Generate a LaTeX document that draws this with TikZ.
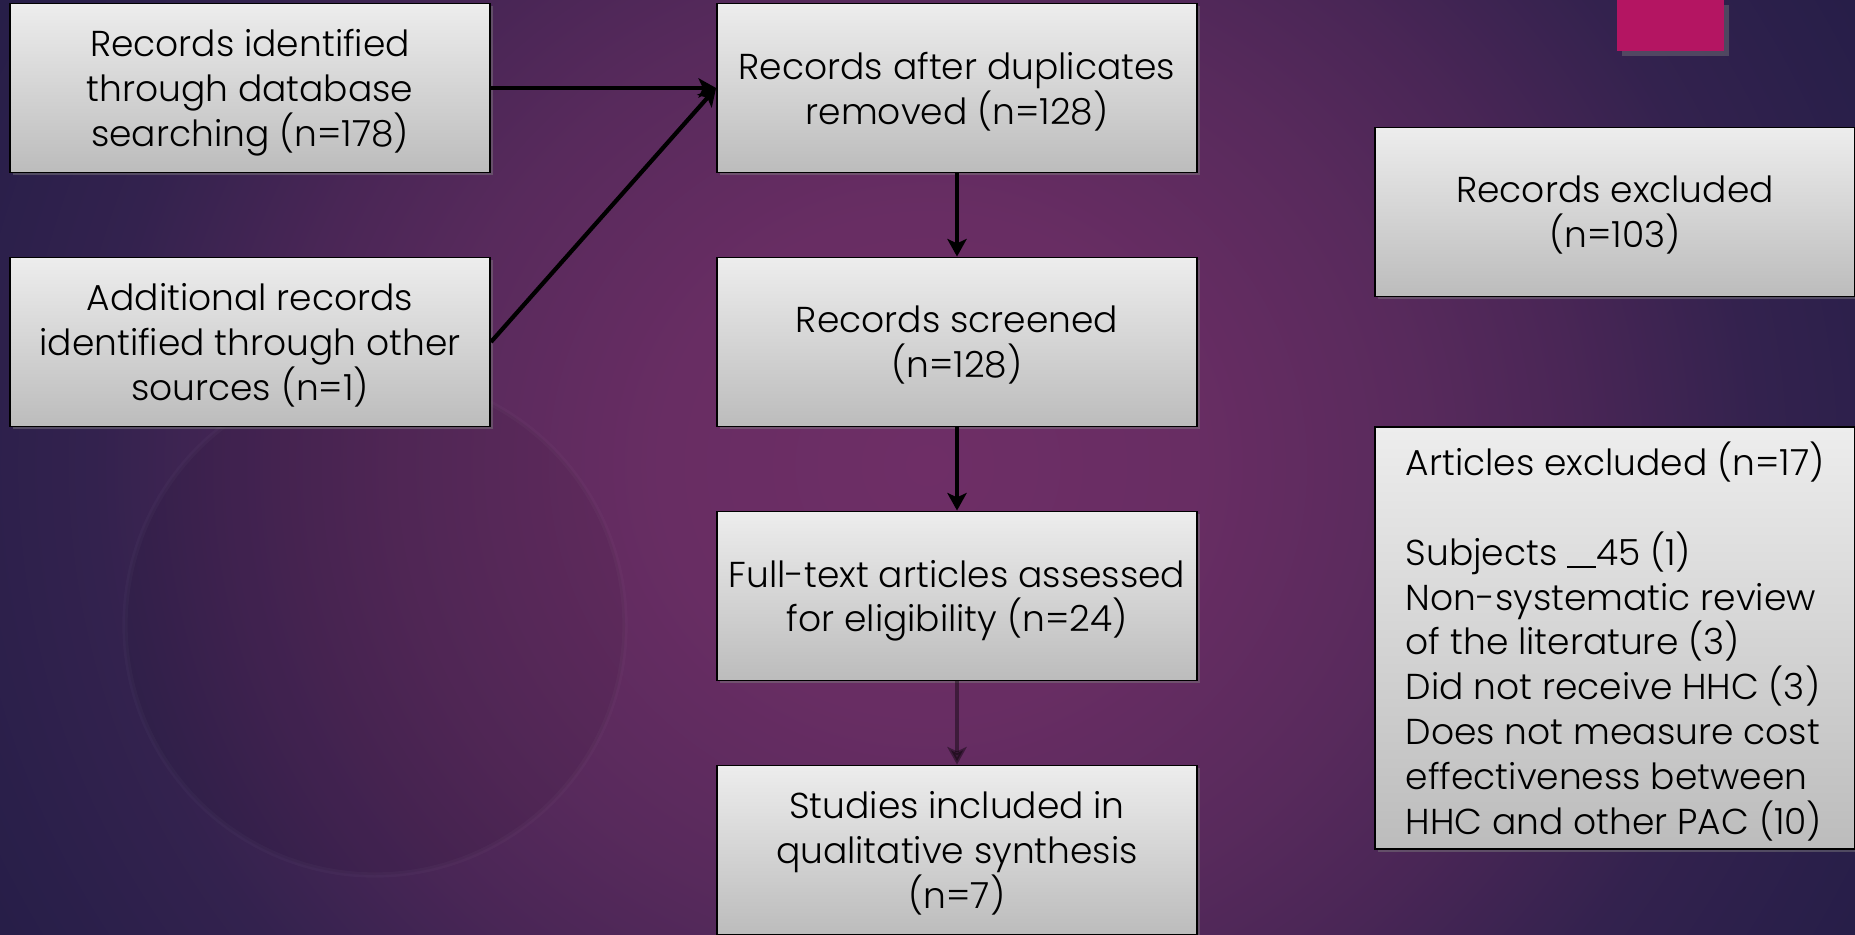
\documentclass[tikz,border=0pt]{standalone}
\usepackage{fontspec}
\setmainfont{Poppins Light}
\usetikzlibrary{arrows.meta,shadows}
\definecolor{bgedge}{HTML}{211C44}
\definecolor{boxtop}{HTML}{EDEDED}
\definecolor{boxbot}{HTML}{BCBCBC}
\definecolor{accent}{HTML}{B41562}
\pgfdeclareradialshading{slideglow}{\pgfpoint{0bp}{0bp}}{color(0bp)=(rgb,255:red,110;green,46;blue,102); color(7bp)=(rgb,255:red,104;green,45;blue,99); color(13bp)=(rgb,255:red,88;green,42;blue,92); color(17bp)=(rgb,255:red,74;green,38;blue,86); color(22bp)=(rgb,255:red,51;green,34;blue,78); color(26bp)=(rgb,255:red,42;green,31;blue,74); color(31bp)=(bgedge); color(50bp)=(bgedge)}

\begin{document}
\begin{tikzpicture}[x=0.02cm,y=-0.02cm,
    box/.style={draw=black, line width=1.1pt, top color=boxtop, bottom color=boxbot,
      minimum width=9.6cm, minimum height=3.38cm, inner sep=0pt, align=center,
      font=\fontsize{20.5}{25.5}\selectfont, text depth=-2.5pt,
      drop shadow={opacity=0.45, shadow xshift=1.5pt, shadow yshift=-1.5pt}},
    flow/.style={line width=2.4pt, -{Stealth[length=10pt, width=11pt, inset=2.5pt]}}]
  \useasboundingbox (0,0) rectangle (1855,935);
  \shade[shading=slideglow] (-20,-420) rectangle (1875,1350);
  \fill[black, opacity=0.06] (375,625) circle (250);
  \draw[white, opacity=0.025, line width=3pt] (375,625) circle (250);
  \fill[accent, drop shadow={opacity=0.4}] (1617,0) rectangle (1724,51);

  \node[box] (recid) at (250,88) {Records identified\\through database\\searching (n=178)};
  \node[box] (addrec) at (250,342) {Additional records\\identified through other\\sources (n=1)};
  \node[box] (dedup) at (957,88) {Records after duplicates\\removed (n=128)};
  \node[box] (screen) at (957,342) {Records screened\\(n=128)};
  \node[box] (fulltext) at (957,596) {Full-text articles assessed\\for eligibility (n=24)};
  \node[box] (studies) at (957,850) {Studies included in\\qualitative synthesis\\(n=7)};
  \node[box] (recexcl) at (1615,212) {Records excluded\\(n=103)};
  \node[box, align=left, minimum height=8.44cm, text depth=-1pt] (artexcl) at (1615,638)
    {Articles excluded (n=17)\\[25.5pt]
     Subjects \rule[-0.15ex]{0.8em}{1.4pt}45 (1)\\
     Non-systematic review\\
     of the literature (3)\\
     Did not receive HHC (3)\\
     Does not measure cost\\
     effectiveness between\\
     HHC and other PAC (10)};

  \draw[flow] (recid.east) -- (dedup.west);
  \draw[flow] (addrec.east) -- (dedup.west);
  \draw[flow] (dedup) -- (screen);
  \draw[flow] (screen) -- (fulltext);
  \draw[flow, opacity=0.4] (fulltext) -- (studies);
\end{tikzpicture}
\end{document}
